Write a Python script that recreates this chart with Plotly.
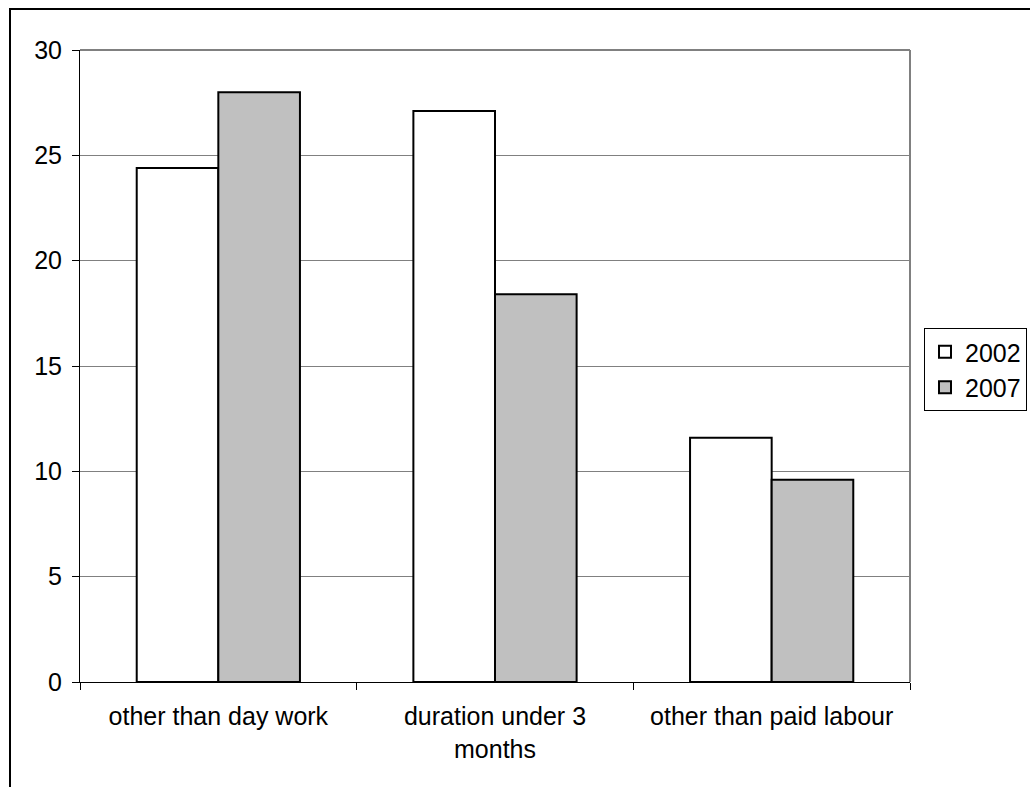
import plotly.graph_objects as go

categories = ["other than day work", "duration under 3<br>months", "other than paid labour"]
series_names = ["2002", "2007"]
values_2002 = [24.4, 27.1, 11.6]
values_2007 = [28.0, 18.4, 9.6]
y_ticks = [0, 5, 10, 15, 20, 25, 30]

W, H = 1030, 787
L, R, T, B = 80, 120, 50, 105
font = dict(family="Arial, Liberation Sans, sans-serif", size=25, color="black")

fig = go.Figure()
fig.add_trace(go.Bar(x=categories, y=values_2002, name=series_names[0],
                     marker=dict(color="white", line=dict(color="black", width=2))))
fig.add_trace(go.Bar(x=categories, y=values_2007, name=series_names[1],
                     marker=dict(color="#C0C0C0", line=dict(color="black", width=2))))

pw = W - L - R
ph = H - T - B

def px(xp):
    return (xp - L) / pw

def py(yp):
    return (H - B - yp) / ph

shapes = [
    dict(type="line", xref="paper", yref="paper", x0=0, x1=1, y0=1, y1=1,
         line=dict(color="#808080", width=2), layer="below"),
    dict(type="line", xref="paper", yref="paper", x0=1, x1=1, y0=0, y1=1,
         line=dict(color="#808080", width=2), layer="below"),
    dict(type="rect", xref="paper", yref="paper", x0=px(10), x1=px(1045), y0=py(810), y1=py(9),
         line=dict(color="black", width=2), fillcolor="rgba(0,0,0,0)", layer="below"),
]

fig.update_layout(
    width=W, height=H,
    margin=dict(l=L, r=R, t=T, b=B, pad=0, autoexpand=False),
    paper_bgcolor="white", plot_bgcolor="white",
    font=font,
    barmode="group", bargap=0.41, bargroupgap=0,
    showlegend=True,
    legend=dict(x=px(924), xanchor="left", y=py(328), yanchor="top",
                bordercolor="black", borderwidth=1, bgcolor="white",
                font=dict(family=font["family"], size=25, color="black"),
                tracegroupgap=0, itemwidth=30),
    shapes=shapes,
)
fig.update_xaxes(type="category", showline=True, linecolor="black", linewidth=1,
                 ticks="outside", tickson="boundaries", ticklen=7, tickcolor="black",
                 showgrid=False, ticklabelstandoff=12)
fig.update_yaxes(range=[0, 30], tickvals=y_ticks, showline=True, linecolor="black", linewidth=1,
                 ticks="outside", ticklen=7, tickcolor="black",
                 showgrid=True, gridcolor="#808080", gridwidth=1, zeroline=False,
                 ticklabelstandoff=5)

fig.write_html("out.html", config={"displayModeBar": False},
               post_script="document.body.style.margin='0';document.body.style.overflow='hidden';")
